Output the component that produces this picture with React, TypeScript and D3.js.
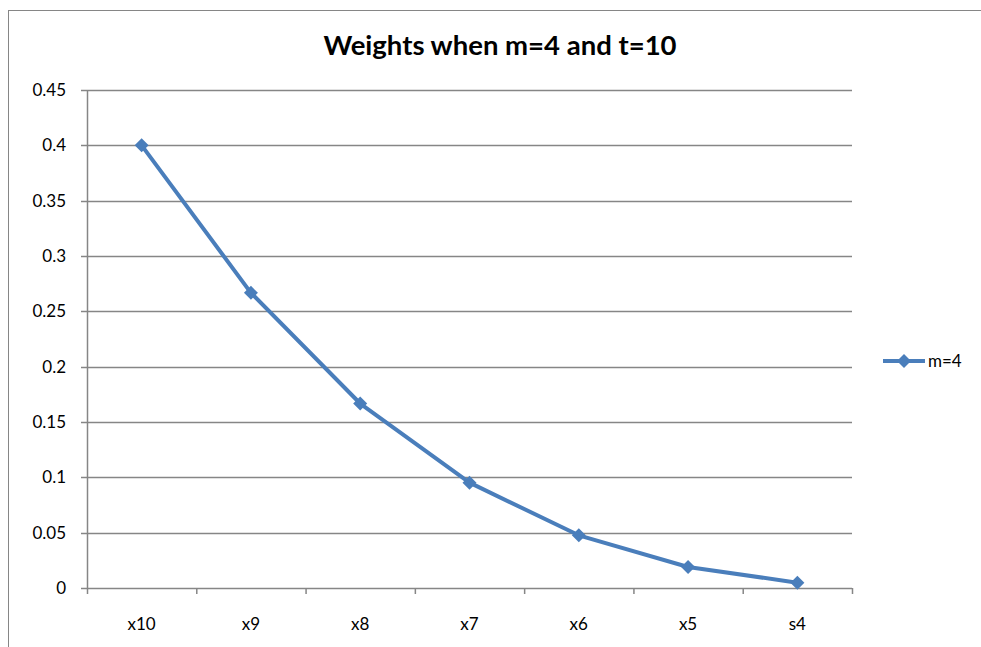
import React from 'react';
import * as d3 from 'd3';

const categories = ['x10', 'x9', 'x8', 'x7', 'x6', 'x5', 's4'];
const weights = [0.4, 0.2667, 0.1667, 0.0952, 0.0476, 0.019, 0.0048];
const yTicks = [0, 0.05, 0.1, 0.15, 0.2, 0.25, 0.3, 0.35, 0.4, 0.45];
const seriesName = 'm=4';
const title = 'Weights when m=4 and t=10';

const W = 981;
const H = 647;
const plot = { left: 87, right: 852, top: 90, bottom: 588 };
const blue = '#4A7EBB';
const grid = '#868686';
const font = 'Lato, "Open Sans", sans-serif';

const diamond = (cx: number, cy: number, r: number) =>
  `M${cx},${cy - r}L${cx + r},${cy}L${cx},${cy + r}L${cx - r},${cy}Z`;

export default function App() {
  const x = d3.scaleBand().domain(categories).range([plot.left, plot.right]);
  const y = d3.scaleLinear().domain([0, 0.45]).range([plot.bottom, plot.top]);
  const cx = (c: string) => (x(c) ?? 0) + x.bandwidth() / 2;

  const line = d3.line<number>()
    .x((_, i) => cx(categories[i]))
    .y((d) => y(d));

  const edges = categories.map((c) => x(c) ?? 0).concat([plot.right]);

  return (
    <svg width={W} height={H} style={{ position: 'absolute', left: 0, top: 0 }}>
      <rect x={0} y={0} width={W} height={H} fill="#fff" />
      <rect x={8.5} y={10.5} width={980} height={660} fill="none" stroke={grid} strokeWidth={1} />

      <text x={500} y={55} textAnchor="middle" fontFamily={font} fontWeight="bold" fontSize={27.5} fill="#000">
        {title}
      </text>

      {yTicks.map((t) => (
        <g key={t}>
          <line x1={plot.left - 6} x2={plot.right} y1={Math.round(y(t)) + 0.5} y2={Math.round(y(t)) + 0.5}
            stroke={grid} strokeWidth={1.5} />
          <text x={66} y={y(t) + 6} textAnchor="end" fontFamily={font} fontSize={17} fill="#000">
            {d3.format('')(t)}
          </text>
        </g>
      ))}

      <line x1={plot.left + 0.5} x2={plot.left + 0.5} y1={plot.top} y2={plot.bottom} stroke={grid} strokeWidth={1.5} />

      {edges.map((e, i) => (
        <line key={i} x1={e + 0.5} x2={e + 0.5} y1={plot.bottom} y2={plot.bottom + 6} stroke={grid} strokeWidth={1.5} />
      ))}

      {categories.map((c) => (
        <text key={c} x={cx(c)} y={630} textAnchor="middle" fontFamily={font} fontSize={17} fill="#000">
          {c}
        </text>
      ))}

      <path d={line(weights) ?? ''} fill="none" stroke={blue} strokeWidth={4} strokeLinejoin="round" />
      {weights.map((v, i) => (
        <path key={i} d={diamond(cx(categories[i]), y(v), 7)} fill={blue} />
      ))}

      <line x1={883} x2={925} y1={361} y2={361} stroke={blue} strokeWidth={4} />
      <path d={diamond(904, 361, 7)} fill={blue} />
      <text x={928} y={367} fontFamily={font} fontSize={17} fill="#000">{seriesName}</text>
    </svg>
  );
}
